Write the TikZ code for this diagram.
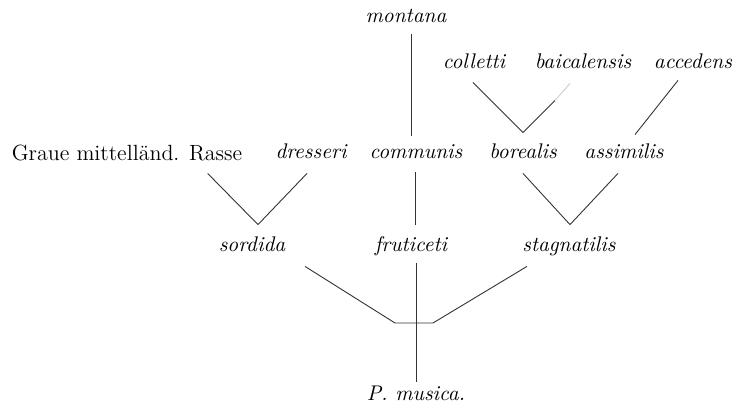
\documentclass[tikz,border=0pt]{standalone}
\usepackage{tikz}
\begin{document}
\begin{tikzpicture}[x=0.5pt,y=-0.5pt,
  art/.style={anchor=base,inner sep=0pt,text height=7pt,text depth=2pt,font=\fontsize{10.6}{12}\selectfont\itshape},
  race/.style={anchor=base,inner sep=0pt,text height=7pt,text depth=2pt,font=\fontsize{11}{13}\selectfont},
  link/.style={draw=black!80,line width=0.45pt}]
\useasboundingbox (0,0) rectangle (735,409);
\node[art] (montana) at (406,22) {montana};
\node[art] (colletti) at (474,68) {colletti};
\node[art] (baicalensis) at (583,68) {baicalensis};
\node[art] (accedens) at (693,68) {accedens};
\node[race] (graue) at (127,160) {Graue mittelländ. Rasse};
\node[art] (dresseri) at (311,158) {dresseri};
\node[art] (communis) at (416,158) {communis};
\node[art] (borealis) at (523,158) {borealis};
\node[art] (assimilis) at (624,158) {assimilis};
\node[art] (sordida) at (252,251) {sordida};
\node[art] (fruticeti) at (411,251) {fruticeti};
\node[art] (stagnatilis) at (569,251) {stagnatilis};
\node[art] (musica) at (416,400) {P. musica.};
\coordinate (bl) at (395,323);
\coordinate (br) at (433,323);
\draw[link] ([xshift=2.5pt,yshift=-4pt]montana.south) -- ([xshift=-2.5pt,yshift=4pt]communis.north);
\draw[link] ([xshift=-0.5pt,yshift=-5pt]colletti.south) -- ([yshift=5.5pt]borealis.north) -- ([xshift=-14pt,yshift=-14pt]baicalensis.south);
\draw[link,draw=black!20] ([xshift=-14pt,yshift=-14pt]baicalensis.south) -- ([xshift=-6.5pt,yshift=-5.5pt]baicalensis.south);
\draw[link] ([xshift=-7.5pt,yshift=-4pt]accedens.south) -- ([xshift=5.5pt,yshift=4.5pt]assimilis.north);
\draw[link] ([xshift=-17.5pt,yshift=-4.5pt]graue.south east) -- ([xshift=3pt,yshift=6pt]sordida.north) -- ([xshift=-2pt,yshift=-5.5pt]dresseri.south);
\draw[link] ([xshift=-0.5pt,yshift=-5pt]communis.south) -- ([xshift=2pt,yshift=6pt]fruticeti.north);
\draw[link] ([yshift=-5.5pt]borealis.south) -- ([xshift=0.5pt,yshift=6pt]stagnatilis.north) -- ([xshift=-3pt,yshift=-5.5pt]assimilis.south);
\draw[link] ([xshift=26.5pt,yshift=-5.5pt]sordida.south) -- (bl) -- (br) -- ([xshift=-21pt,yshift=-5.5pt]stagnatilis.south);
\draw[link] ([xshift=2.5pt,yshift=-4pt]fruticeti.south) -- ([yshift=2pt]musica.north);
\end{tikzpicture}
\end{document}
